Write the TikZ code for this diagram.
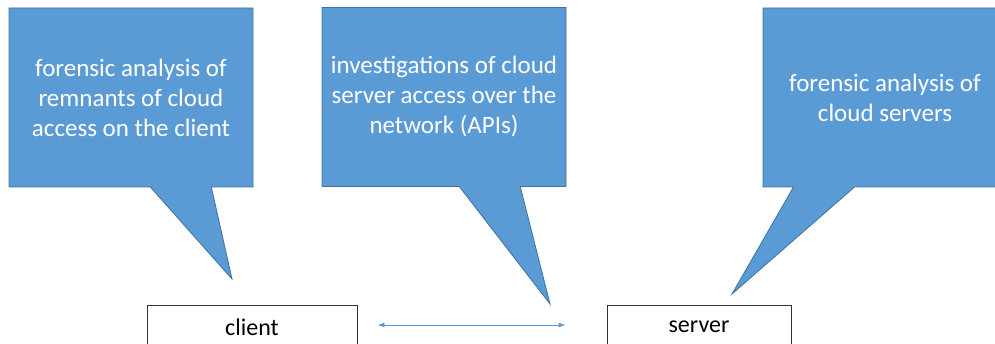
\documentclass[tikz,border=0pt]{standalone}
\usepackage{fontspec}
\setmainfont{Carlito}
\usepackage{tikz}
\usetikzlibrary{arrows.meta,shapes.callouts}
\definecolor{noteblue}{HTML}{5B9BD5}
\definecolor{noteedge}{HTML}{41719C}
\tikzset{x=1pt,y=1pt}
\tikzset{note/.style={rectangle callout, fill=noteblue, draw=noteedge, line width=0.8pt,
    text=white, align=center, minimum width=244pt, minimum height=179pt, inner sep=0pt,
    callout pointer width=61pt, font=\fontsize{25}{30}\selectfont}}
\tikzset{host/.style={draw=black!80, line width=0.8pt, fill=white, minimum width=#1,
    minimum height=44pt, inner sep=0pt, font=\fontsize{24}{29}\selectfont}}

\begin{document}
\begin{tikzpicture}
  \useasboundingbox (0,0) rectangle (995,344);

  % where the callouts point
  \coordinate (tipclient) at (232,65);
  \coordinate (tipnet) at (550,40);
  \coordinate (tipserver) at (732,50);

  \node[note, callout absolute pointer={(tipclient)}] (clientnote) at (131,246.5)
       {forensic analysis of\\remnants of cloud\\access on the client};
  \node[note, callout absolute pointer={(tipnet)}] (netnote) at (444,247)
       {investigations of cloud\\server access over the\\network (APIs)};
  \node[note, callout absolute pointer={(tipserver)}] (servernote) at (885,246.5)
       {forensic analysis of\\cloud servers};

  \node[host=210pt] (client) at (252,17) {client};
  \node[host=184pt] (server) at (699,17) {server};

  \draw[noteblue, line width=0.8pt, {Latex[length=7pt,width=5pt]}-{Latex[length=7pt,width=5pt]},
        shorten <=20pt, shorten >=41pt] ([yshift=2pt]client.east) -- ([yshift=2pt]server.west);
\end{tikzpicture}
\end{document}
